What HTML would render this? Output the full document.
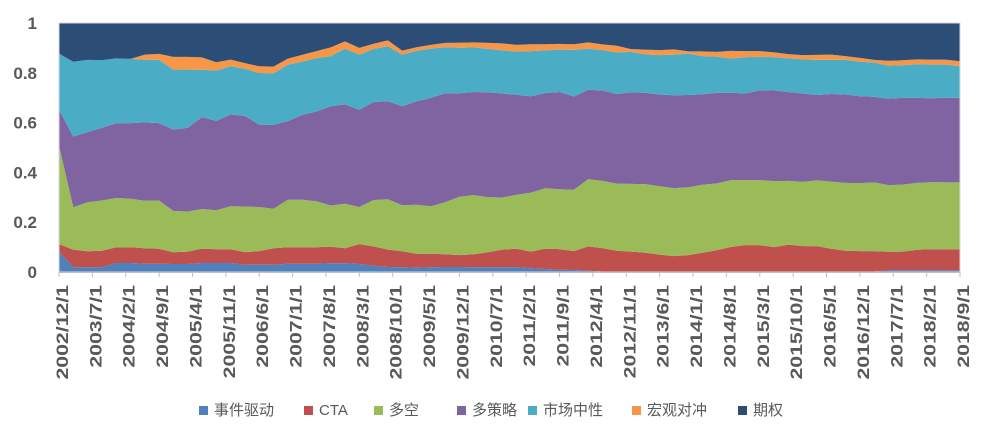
<!DOCTYPE html>
<html><head><meta charset="utf-8"><style>
body{margin:0;background:#fff;}
#wrap{position:relative;width:984px;height:432px;overflow:hidden;font-family:"Liberation Sans","Noto Sans CJK SC",sans-serif;}
.lg{position:absolute;top:401px;font-size:15px;color:#595959;white-space:nowrap;line-height:20px;}
.lg span{display:inline-block;width:9px;height:9px;margin-right:6px;vertical-align:middle;position:relative;top:-1px;}
</style></head><body>
<div id="wrap">
<svg id="chart" width="984" height="432"></svg>
<div class="lg" style="left:199px"><span style="background:#4f81bd"></span>事件驱动</div>
<div class="lg" style="left:304px"><span style="background:#c0504d"></span>CTA</div>
<div class="lg" style="left:374px"><span style="background:#9bbb59"></span>多空</div>
<div class="lg" style="left:457px"><span style="background:#8064a2"></span>多策略</div>
<div class="lg" style="left:528px"><span style="background:#4bacc6"></span>市场中性</div>
<div class="lg" style="left:632px"><span style="background:#f79646"></span>宏观对冲</div>
<div class="lg" style="left:738px"><span style="background:#2c4d75"></span>期权</div>
</div>
<script>
const xLabels = ["2002/12/1","2003/7/1","2004/2/1","2004/9/1","2005/4/1","2005/11/1","2006/6/1","2007/1/1","2007/8/1","2008/3/1","2008/10/1","2009/5/1","2009/12/1","2010/7/1","2011/2/1","2011/9/1","2012/4/1","2012/11/1","2013/6/1","2014/1/1","2014/8/1","2015/3/1","2015/10/1","2016/5/1","2016/12/1","2017/7/1","2018/2/1","2018/9/1"];
const yTicks = [0,0.2,0.4,0.6,0.8,1];
const eventDriven = [8.3,1.9,1.9,1.9,3.6,3.6,3.3,3.3,3.2,3.2,3.6,3.6,3.6,2.9,2.9,2.9,3.3,3.3,3.3,3.5,3.5,3.2,2.5,2.0,1.9,1.7,1.9,2.0,2.0,1.9,1.9,1.9,1.9,1.5,1.2,0.9,0.8,0.5,0.2,0.2,0.2,0.2,0.2,0.2,0.2,0.2,0.2,0.2,0.2,0.2,0.2,0.2,0.2,0.2,0.2,0.2,0.2,0.2,0.7,0.7,0.7,0.7,0.7,0.7];
const cta = [2.9,7.1,6.4,6.6,6.3,6.3,6.2,6.0,4.7,5.0,5.8,5.5,5.5,5.1,5.5,6.6,6.6,6.6,6.6,6.7,6.0,8.0,7.8,7.0,6.4,5.6,5.4,5.1,4.8,5.2,6.0,7.1,7.4,6.7,8.2,8.3,7.6,9.8,9.4,8.3,8.0,7.5,6.8,6.2,6.6,7.5,8.6,9.9,10.6,10.6,9.8,10.8,10.2,10.2,9.1,8.3,8.2,8.2,7.4,7.5,8.2,8.4,8.4,8.4];
const longShort = [39.5,17.0,19.7,20.2,19.8,19.5,19.1,19.4,16.6,16.1,15.9,15.7,17.3,18.3,17.7,15.9,19.1,19.1,18.5,16.5,17.9,14.9,18.6,20.2,18.5,19.7,19.1,20.9,23.4,23.8,22.1,20.9,21.7,23.7,24.2,24.0,24.6,27.0,27.0,27.0,27.2,27.6,27.4,27.3,27.2,27.3,26.8,26.8,26.1,26.1,26.5,25.6,25.8,26.4,27.0,27.3,27.3,27.6,26.8,26.9,26.9,27.0,26.9,26.9];
const multiStrategy = [14.5,28.4,28.2,29.2,30.1,30.4,31.5,31.1,32.7,33.6,36.9,35.9,36.9,36.4,33.1,33.7,31.6,34.1,36.1,39.9,39.9,39.1,39.4,39.4,39.8,41.5,43.5,43.8,41.6,41.4,42.2,41.8,40.2,38.7,38.3,39.1,37.5,35.9,36.3,36.0,36.8,36.7,36.9,37.3,37.1,36.4,36.4,35.1,34.8,36.1,36.4,35.7,35.5,34.3,35.2,35.5,34.9,34.4,34.7,34.8,34.1,33.7,34.0,33.9];
const marketNeutral = [22.5,30.0,29.0,27.2,26.0,25.8,25.2,25.4,24.1,23.4,19.0,20.2,19.3,18.9,20.7,20.7,22.6,21.4,21.4,20.1,22.4,22.1,21.3,22.1,20.7,20.3,19.8,18.5,18.3,17.9,17.4,17.3,17.3,18.1,17.1,17.0,18.7,16.5,16.2,16.7,16.2,15.4,15.8,16.3,16.6,15.3,14.5,13.7,14.6,13.4,13.4,13.5,13.7,14.1,13.7,13.9,13.9,13.7,13.3,13.1,13.5,13.5,13.3,12.7];
const macroHedge = [0,0,0,0,0,0,2.0,2.4,5.1,5.1,5.0,3.3,2.7,2.3,2.7,2.7,2.5,2.7,2.8,3.5,2.9,2.7,2.1,2.3,1.6,1.5,1.5,1.7,2.0,2.0,2.4,2.8,2.7,2.8,2.5,2.3,2.3,2.5,2.3,2.7,1.1,1.9,2.0,2.1,0.9,1.9,1.9,3.1,2.4,2.3,1.9,1.7,1.7,2.0,2.1,1.5,1.5,1.1,1.9,2.0,2.0,2.0,2.0,2.0];
const options = [12.3,15.7,14.7,15.0,14.2,14.3,12.7,12.3,13.7,13.7,13.8,15.8,14.7,16.1,17.4,17.4,14.2,12.7,11.2,9.9,7.4,10.0,8.3,7.1,11.1,9.6,8.8,8.0,7.8,7.8,8.0,8.2,9.0,8.6,8.4,8.4,8.4,7.8,8.7,9.1,10.6,10.8,10.8,10.6,11.5,11.5,11.8,11.4,11.4,11.4,11.9,12.4,13.0,13.0,12.7,13.4,14.1,15.0,15.4,15.0,14.6,14.6,14.7,15.4];

const NS='http://www.w3.org/2000/svg';
const svg=document.getElementById('chart');
const L=59,R=960,T=23,B=272;
const n=eventDriven.length;
function xs(i){return L+(R-L)*i/(n-1);}
function ys(v){return B-(B-T)*v;}
function mk(tag,attrs){const e=document.createElementNS(NS,tag);for(const k in attrs)e.setAttribute(k,attrs[k]);svg.appendChild(e);return e;}

const series=[
 {d:eventDriven,c:'#4f81bd',name:'area-event-driven'},
 {d:cta,c:'#c0504d',name:'area-cta'},
 {d:longShort,c:'#9bbb59',name:'area-long-short'},
 {d:multiStrategy,c:'#8064a2',name:'area-multi-strategy'},
 {d:marketNeutral,c:'#4bacc6',name:'area-market-neutral'},
 {d:macroHedge,c:'#f79646',name:'area-macro-hedge'},
 {d:options,c:'#2c4d75',name:'area-options'}
];
let base=new Array(n).fill(0);
series.forEach(s=>{
  const top=base.map((b,i)=>b+s.d[i]/100);
  let p='';
  for(let i=0;i<n;i++)p+=(i?'L':'M')+xs(i).toFixed(1)+','+ys(top[i]).toFixed(1);
  for(let i=n-1;i>=0;i--)p+='L'+xs(i).toFixed(1)+','+ys(base[i]).toFixed(1);
  const e=mk('path',{d:p+'Z',fill:s.c,stroke:'none'});
  
  
  base=top;
});
const bd=mk('rect',{x:L,y:T,width:R-L,height:B-T,fill:'none',stroke:'#d9d9d9','stroke-width':1});


const ax=mk('line',{x1:L,y1:B+0.5,x2:R,y2:B+0.5,stroke:'#bfbfbf','stroke-width':1});


yTicks.forEach(v=>{
  const t=mk('text',{x:37,y:ys(v)+6,'text-anchor':'end','font-size':'17','font-weight':'bold',fill:'#595959','font-family':'Liberation Sans, sans-serif'});
  t.textContent=String(v);
  
  
});
const step=(R-L)/(xLabels.length-1);
xLabels.forEach((lab,k)=>{
  const x=L+step*k;
  const tk=mk('line',{x1:x,y1:B,x2:x,y2:B+5,stroke:'#bfbfbf','stroke-width':1});
  
  
  const t=mk('text',{x:0,y:0,'text-anchor':'end','font-size':'17','font-weight':'bold',fill:'#595959','font-family':'Liberation Sans, sans-serif',transform:'translate('+(x+9)+','+(B+13)+') rotate(-90) scale(1.25,1)'});
  t.textContent=lab;
  
  
});
</script>
</body></html>
